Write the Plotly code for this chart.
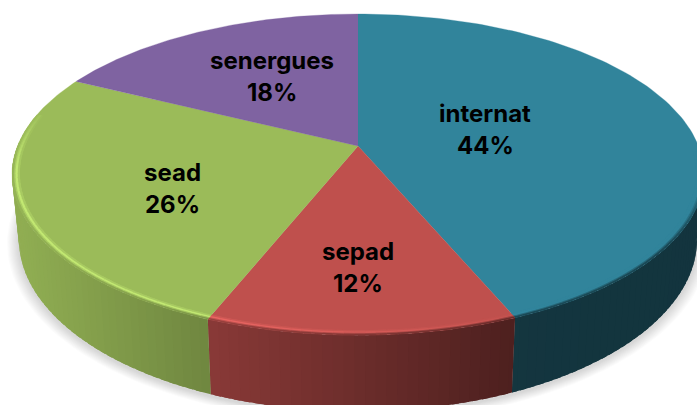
import numpy as np
import plotly.graph_objects as go

categories = ["internat", "sepad", "sead", "senergues"]
values = [43.7, 12.3, 26.4, 17.6]
face_colors = ["#31849B", "#BF504D", "#9BBB59", "#7F63A1"]
label_x = [485, 358, 172, 272]
label_y = [129, 267, 188, 76]

CX, CY, A, B, K, DEPTH, XS = 358.0, 146.0, 340.5, 155.5, 0.178, 62.6, 0.98


def rgb(h):
    return np.array([int(h[i:i + 2], 16) for i in (1, 3, 5)], float)


def css(c):
    c = np.clip(c, 0, 255)
    return f"rgb({int(c[0])},{int(c[1])},{int(c[2])})"


def proj(theta, r=1.0, low=False):
    t = np.radians(theta)
    X, Y = r * np.sin(t), r * np.cos(t)
    w = 1 + K * Y
    x, y = A * X / w, -B * Y / w
    if low:
        x = x * XS
        y = y + DEPTH / w
    return CX + x, CY + y


def poly(fig, xs, ys, color, lw=0.0):
    fig.add_trace(go.Scatter(x=list(xs), y=list(ys), mode="lines", fill="toself",
                             fillcolor=color, line=dict(color=color, width=lw),
                             hoverinfo="skip", showlegend=False))


fig = go.Figure()

total = sum(values)
edges = np.concatenate([[0], np.cumsum(values)]) / total * 360

# soft shadow
circle = np.linspace(0, 360, 181)
for i in range(10, 0, -1):
    bx, by = proj(circle, 1.0, low=True)
    s = 1 + i * 0.0035
    poly(fig, CX + (bx - CX) * s, 172 + (by - 172) * s + 2,
         "rgba(0,0,0,0.014)")


def slice_of(th):
    return min(int(np.searchsorted(edges, th, side="right")) - 1, len(values) - 1)


def shade(x):
    return np.interp(x, [20, 210, 510, 700], [0.93, 0.72, 0.41, 0.40])


def overlap_end(a, b):
    """Extend a strip past its end while it stays in the same slice, to hide seams."""
    e = b + 1.0
    i = slice_of((a + b) / 2)
    return min(e, edges[i + 1])


# side wall
STEP = 1.5
grid = sorted(set(np.arange(92, 272, STEP).tolist()) | {e for e in edges if 92 < e < 272})
for a, b in zip(grid[:-1], grid[1:]):
    m = (a + b) / 2
    e = overlap_end(a, b)
    col = rgb(face_colors[slice_of(m)])
    x1, y1 = proj(np.array([a, m, e]))
    x2, y2 = proj(np.array([e, m, a]), low=True)
    poly(fig, np.r_[x1, x2], np.r_[y1, y2], css(col * shade(x1[1])))

# top face
for i in range(len(values)):
    th = np.linspace(edges[i], edges[i + 1], 121)
    ax, ay = proj(th)
    poly(fig, np.r_[CX, ax], np.r_[CY, ay], face_colors[i], 0.3)


# bevel along the front rim
def hl_amount(th):
    return float(np.interp(th, [150, 205, 262, 285], [0.0, 0.8, 0.8, 0.0]))


def rim_amount(th):
    return float(np.interp(th, [92, 125, 262, 280], [0.0, 1.0, 1.0, 0.0]))


bands = [(0.980, 0.986, 0.35, 0.0), (0.986, 0.992, 1.0, 0.0),
         (0.992, 0.996, 0.8, 0.35), (0.996, 1.0, 0.3, 0.75)]
grid2 = sorted(set(np.arange(92, 282, STEP).tolist()) | {e for e in edges if 92 < e < 282})
for a, b in zip(grid2[:-1], grid2[1:]):
    m = (a + b) / 2
    e = overlap_end(a, b)
    face = rgb(face_colors[slice_of(m)])
    x0, _ = proj(m)
    side = face * shade(x0)
    light = face * 1.25 + 10
    h = hl_amount(m)
    ra = rim_amount(m)
    for r0, r1, hk, sk in bands:
        c = face + (light - face) * h * hk
        c = c + (side - c) * sk * ra
        th = np.array([a, m, e])
        xa, ya = proj(th, r1)
        xb, yb = proj(th[::-1], r0 - 0.002)
        poly(fig, np.r_[xa, xb], np.r_[ya, yb], css(c))

font = dict(family="Inter", size=24, color="#000000")
for n, v, x, y in zip(categories, values, label_x, label_y):
    pct = round(v / total * 100)
    fig.add_annotation(x=x, y=y - 16, text=f"<b>{n}</b>", showarrow=False, font=font)
    fig.add_annotation(x=x, y=y + 16, text=f"<b>{pct}%</b>", showarrow=False, font=font)

fig.update_layout(width=697, height=405, margin=dict(l=0, r=0, t=0, b=0),
                  paper_bgcolor="white", plot_bgcolor="white", showlegend=False,
                  xaxis=dict(range=[0, 697], visible=False, fixedrange=True),
                  yaxis=dict(range=[405, 0], visible=False, fixedrange=True))

fig.write_html("out.html", config={"displayModeBar": False},
               post_script="document.body.style.margin='0';document.body.style.overflow='hidden';")
